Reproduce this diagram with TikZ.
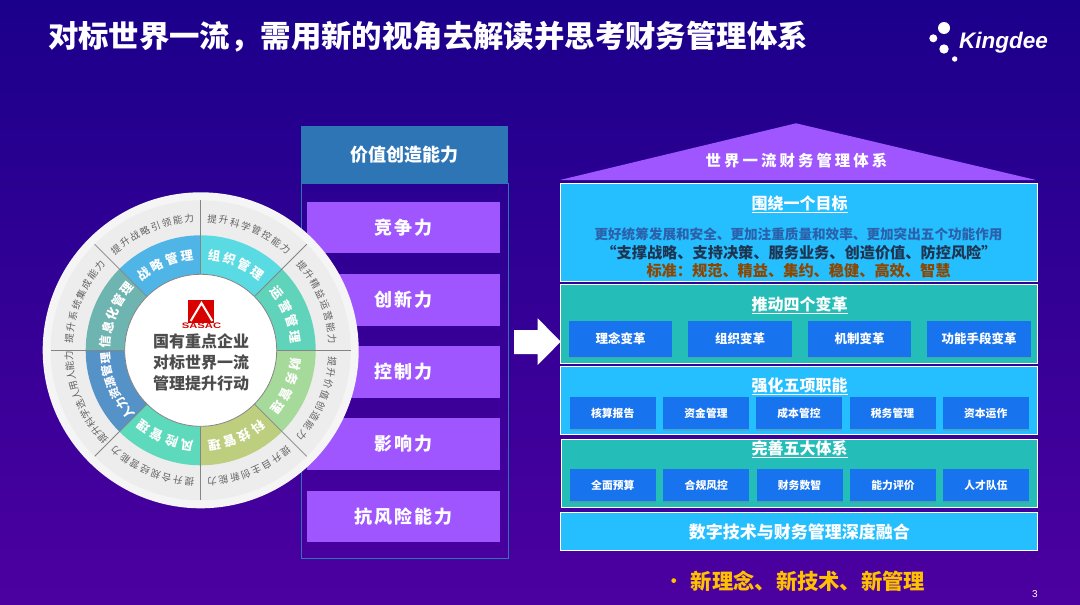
\documentclass[tikz,border=0pt]{standalone}
\usepackage{fontspec}
\setmainfont{Noto Sans CJK SC}
\newfontfamily\widefont[LetterSpace=10]{Noto Sans CJK SC}
\newfontfamily\widerfont[LetterSpace=20]{Noto Sans CJK SC}
\newfontfamily\latinfont{Liberation Sans}
\usetikzlibrary{shadows}

\definecolor{bgtop}{HTML}{1B008B}
\definecolor{bgbottom}{HTML}{4C00A0}
\definecolor{headblue}{HTML}{2E75B6}
\definecolor{violet}{HTML}{A056FF}
\definecolor{skyblue}{HTML}{25BEFF}
\definecolor{teal}{HTML}{25BDB8}
\definecolor{itemblue}{HTML}{1873EE}
\definecolor{spoke}{HTML}{858585}
\definecolor{gold}{HTML}{FFC000}

\newcommand\fs[1]{\fontsize{#1}{#1}\selectfont}
% characters set one by one round the wheel, clockwise
\newcommand\arclabel[6]{%
  \foreach \ch [count=\n from 0, evaluate=\n as \ang using #3-\n*#4] in {#6}
    \node[#2, rotate=\ang-90] (#1\n) at (\ang:#5pt) {\ch};%
}

\begin{document}
\begin{tikzpicture}[
    x=1pt, y=-1pt,
    every node/.style={inner sep=0pt, outer sep=0pt, text=white},
    violetbox/.style={fill=violet, minimum width=193, minimum height=51.5, font=\widefont\bfseries\fs{18}},
    tierbox/.style={draw=white, line width=1.2pt, minimum width=477, fill=skyblue},
    tealtier/.style={tierbox, fill=teal},
    tiertitle/.style={font=\bfseries\fs{16}},
    itembox/.style={fill=itemblue, drop shadow={shadow xshift=0pt, shadow yshift=-1.5pt, opacity=.35}, font=\bfseries},
    wideitem/.style={itembox, minimum width=103.5, minimum height=35.5, font=\bfseries\fs{12.5}},
    smallitem/.style={itembox, minimum width=86, minimum height=32, font=\bfseries\fs{10.8}},
    outerlabel/.style={text=black!62, font=\fs{9.6}},
    innerlabel/.style={font=\bfseries\fs{12.5}},
    peoplelabel/.style={font=\bfseries\fs{11.5}},
    centerline/.style={text=black!70, font=\bfseries\fs{16}}]

\useasboundingbox (0,0) rectangle (1080,605);
\shade[top color=bgtop, bottom color=bgbottom] (0,0) rectangle (1080,605);

% title and logo
\node (title) at (428,37) {\bfseries\fs{30.4}对标世界一流，需用新的视角去解读并思考财务管理体系};
\fill[white] (944,28) circle (6);
\fill[white] (933.3,38.3) circle (4);
\fill[white] (944,49) circle (4.7);
\fill[white] (954.7,59) circle (2.7);
\node (kingdee) at (1003.5,43) {\latinfont\bfseries\itshape\fs{22.5}Kingdee};

% middle column
\node[draw=headblue, line width=1pt, minimum width=207, minimum height=375] (column) at (404.5,370.5) {};
\node[fill=headblue, minimum width=207.5, minimum height=57] (valuehead) at (404.5,154.5) {\bfseries\fs{18}价值创造能力};
\node[violetbox] (compete) at (403.5,227.5) {竞争力};
\node[violetbox] (innovate) at (403.5,300) {创新力};
\node[violetbox] (control) at (403.5,372) {控制力};
\node[violetbox] (influence) at (403.5,444) {影响力};
\node[violetbox] (resist) at (403.5,516.5) {抗风险能力};

% wheel
\begin{scope}[shift={(200.7,350.3)}]
\fill[white!96!black] (0,0) circle (158);
\fill[white!93!black] (0,0) circle (150);
\fill[fill={rgb,255:red,95;green,212;blue,186}] (0,0) -- (0:115pt) arc[start angle=0, end angle=45, radius=115pt] -- cycle;
\fill[fill={rgb,255:red,90;green,218;blue,226}] (0,0) -- (45:115pt) arc[start angle=45, end angle=90, radius=115pt] -- cycle;
\fill[fill={rgb,255:red,79;green,181;blue,230}] (0,0) -- (90:115pt) arc[start angle=90, end angle=135, radius=115pt] -- cycle;
\fill[fill={rgb,255:red,110;green,180;blue,176}] (0,0) -- (135:115pt) arc[start angle=135, end angle=180, radius=115pt] -- cycle;
\fill[fill={rgb,255:red,85;green,146;blue,200}] (0,0) -- (180:115pt) arc[start angle=180, end angle=225, radius=115pt] -- cycle;
\fill[fill={rgb,255:red,93;green,217;blue,188}] (0,0) -- (225:115pt) arc[start angle=225, end angle=270, radius=115pt] -- cycle;
\fill[fill={rgb,255:red,189;green,207;blue,126}] (0,0) -- (270:115pt) arc[start angle=270, end angle=315, radius=115pt] -- cycle;
\fill[fill={rgb,255:red,166;green,218;blue,155}] (0,0) -- (315:115pt) arc[start angle=315, end angle=360, radius=115pt] -- cycle;
\foreach \a in {0,45,...,315}
  \draw[spoke, line width=.8pt] (\a:76pt) -- (\a:150pt);
\draw[spoke, line width=.8pt, fill=white] (0,0) circle (76);
\arclabel{strategy}{innerlabel}{126.8}{9.5}{95.5}{战,略,管,理}
\arclabel{organize}{innerlabel}{81.8}{9.5}{95.5}{组,织,管,理}
\arclabel{operate}{innerlabel}{36.8}{9.5}{95.5}{运,营,管,理}
\arclabel{finance}{innerlabel}{-8.2}{9.5}{95.5}{财,务,管,理}
\arclabel{tech}{innerlabel}{-53.2}{9.5}{95.5}{科,技,管,理}
\arclabel{risk}{innerlabel}{-98.2}{9.5}{95.5}{风,险,管,理}
\arclabel{people}{peoplelabel}{221}{7.2}{95.5}{人,力,资,源,管,理}
\arclabel{infosys}{innerlabel}{175}{8.7}{95.5}{信,息,化,管,理}
\arclabel{leadcap}{outerlabel}{130}{5}{132}{提,升,战,略,引,领,能,力}
\arclabel{governcap}{outerlabel}{85}{5}{132}{提,升,科,学,管,控,能,力}
\arclabel{leancap}{outerlabel}{40}{5}{132}{提,升,精,益,运,营,能,力}
\arclabel{valuecap}{outerlabel}{-5}{5}{132}{提,升,价,值,创,造,能,力}
\arclabel{selfcap}{outerlabel}{-50}{5}{132}{提,升,自,主,创,新,能,力}
\arclabel{lawcap}{outerlabel}{-95}{5}{132}{提,升,合,规,经,营,能,力}
\arclabel{staffcap}{outerlabel}{222}{4.4}{132}{提,升,科,学,选,人,用,人,能,力}
\arclabel{systemcap}{outerlabel}{175}{5}{132}{提,升,系,统,集,成,能,力}
\end{scope}

% centre of the wheel
\fill[red!85!black] (188.3,300) rectangle (214.3,323);
\draw[white, line width=2pt] (190.7,321) -- (201.5,303) -- (212.3,321);
\node[text=red!85!black, xscale=1.4] (sasac) at (201.5,326) {\latinfont\bfseries\fs{8}SASAC};
\node[centerline] (centerone) at (201,341) {国有重点企业};
\node[centerline] (centertwo) at (201,362.5) {对标世界一流};
\node[centerline] (centerthree) at (201,383.5) {管理提升行动};

% arrow
\fill[white] (514,330) -- (537.7,330) -- (537.7,318.3) -- (560.7,341.7) -- (537.7,365) -- (537.7,354) -- (514,354) -- cycle;

% roof
\fill[violet] (560,180) -- (796,123.3) -- (1036,180) -- cycle;
\node (rooftext) at (796.5,161) {\widerfont\bfseries\fs{15.4}世界一流财务管理体系};

% tier 1
\node[tierbox, minimum height=98] (goal) at (799.3,232.5) {};
\node[tiertitle] (goaltitle) at (799.5,204) {\underline{围绕一个目标}};
\node[text={rgb,255:red,43;green,97;blue,170}, font=\bfseries\fs{13.6}] (goalone) at (798.5,234) {更好统筹发展和安全、更加注重质量和效率、更加突出五个功能作用};
\node[text={rgb,255:red,30;green,52;blue,80}, font=\bfseries\fs{15.2}] (goaltwo) at (799,252.5) {“支撑战略、支持决策、服务业务、创造价值、防控风险”};
\node[text=orange!55!black, font=\bfseries\fs{15.2}] (goalthree) at (798.5,270.5) {标准：规范、精益、集约、稳健、高效、智慧};

% tier 2
\node[tealtier, minimum height=79] (reform) at (799.3,324) {};
\node[tiertitle] (reformtitle) at (799.5,305) {\underline{推动四个变革}};
\node[wideitem] (reformone) at (620.5,339) {理念变革};
\node[wideitem] (reformtwo) at (740,339) {组织变革};
\node[wideitem] (reformthree) at (859.5,339) {机制变革};
\node[wideitem] (reformfour) at (979,339) {功能手段变革};

% tier 3
\node[tierbox, minimum height=68] (duty) at (799.3,400.7) {};
\node[tiertitle] (dutytitle) at (799.5,386) {\underline{强化五项职能}};
\node[smallitem] (dutyone) at (612.7,413.3) {核算报告};
\node[smallitem] (dutytwo) at (706,413.3) {资金管理};
\node[smallitem] (dutythree) at (799,413.3) {成本管控};
\node[smallitem] (dutyfour) at (892.5,413.3) {税务管理};
\node[smallitem] (dutyfive) at (985.7,413.3) {资本运作};

% tier 4
\node[tealtier, minimum width=476, minimum height=68] (system) at (799.7,473.3) {};
\node[tiertitle] (systemtitle) at (799.5,449.5) {\underline{完善五大体系}};
\node[smallitem] (systemone) at (612.8,485) {全面预算};
\node[smallitem] (systemtwo) at (706.3,485) {合规风控};
\node[smallitem] (systemthree) at (799.5,485) {财务数智};
\node[smallitem] (systemfour) at (893,485) {能力评价};
\node[smallitem] (systemfive) at (986,485) {人才队伍};

% tier 5
\node[tierbox, minimum height=38] (digital) at (799.3,531.7) {\bfseries\fs{17}数字技术与财务管理深度融合};

% bottom line
\fill[gold] (673.7,580.6) circle (2.4);
\node[text=gold, font=\bfseries\fs{21.3}] (newline) at (808,581) {新理念、新技术、新管理};
\node[font=\latinfont\fs{10}] (pagenum) at (1035,594) {3};

\end{tikzpicture}
\end{document}
